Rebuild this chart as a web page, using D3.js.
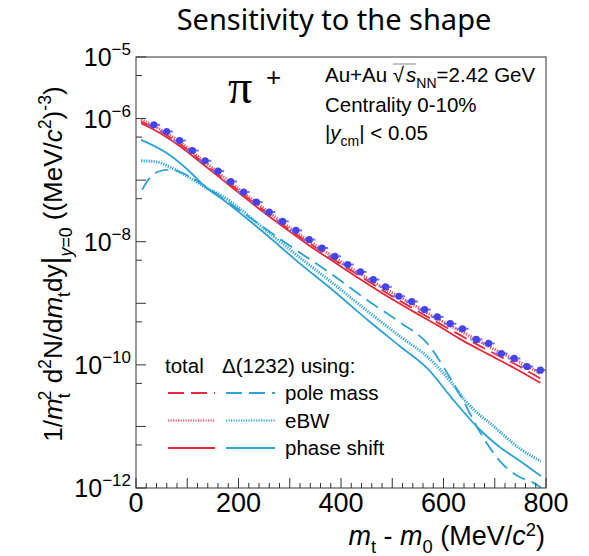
<!DOCTYPE html>
<html>
<head>
<meta charset="utf-8">
<script src="https://cdn.jsdelivr.net/npm/d3@7"></script>
<style>
	body { margin: 0; background: #fff; }
	svg { display: block; font-family: "Liberation Sans", Arial, sans-serif; }
</style>
</head>
<body>
<svg id="chart" width="589" height="556"></svg>
<script>
	// measured pi+ spectrum (points)
	var dataX = [35, 60, 85, 110, 135, 160, 185, 210, 235, 260, 286, 312, 338, 363, 388, 413,
		438, 463, 487, 513, 538, 563, 588, 613, 637, 664, 688, 713, 738, 763, 789];
	var dataY = [7.9e-7, 6.15e-7, 4.4e-7, 3.03e-7, 2.06e-7, 1.40e-7, 9.5e-8, 6.4e-8, 4.4e-8, 3.04e-8,
		2.14e-8, 1.53e-8, 1.08e-8, 7.9e-9, 5.8e-9, 4.26e-9, 3.24e-9, 2.43e-9, 1.85e-9, 1.30e-9,
		1.07e-9, 7.9e-10, 6.0e-10, 4.66e-10, 3.86e-10, 2.59e-10, 2.23e-10, 1.53e-10, 1.27e-10,
		9.4e-11, 8.2e-11];

	// total spectra (red)
	var totalX = [10, 35, 85, 135, 185, 235, 286, 338, 388, 438, 487, 538, 588, 637, 688, 738, 789];
	var totalPole = [8.9e-7, 7.1e-7, 3.9e-7, 1.82e-7, 8.5e-8, 4.0e-8, 1.91e-8, 9.5e-9, 5.0e-9,
		2.75e-9, 1.51e-9, 8.5e-10, 4.9e-10, 2.9e-10, 1.70e-10, 1.05e-10, 6.0e-11];
	var totalEbw = [9.5e-7, 7.6e-7, 4.2e-7, 1.95e-7, 9.1e-8, 4.3e-8, 2.04e-8, 1.02e-8, 5.5e-9,
		3.0e-9, 1.70e-9, 9.8e-10, 5.6e-10, 3.4e-10, 2.0e-10, 1.23e-10, 7.2e-11];
	var totalPhase = [8.3e-7, 6.6e-7, 3.6e-7, 1.70e-7, 7.9e-8, 3.7e-8, 1.78e-8, 8.7e-9, 4.6e-9,
		2.45e-9, 1.35e-9, 7.6e-10, 4.4e-10, 2.5e-10, 1.48e-10, 8.9e-11, 5.1e-11];

	// Delta(1232) contribution (cyan)
	var deltaPoleX = [12, 27, 43, 66, 98, 131, 203, 300, 380, 455, 515, 570, 605, 635, 670, 710, 745, 780, 805];
	var deltaPole = [7.0e-8, 1.09e-7, 1.37e-7, 1.48e-7, 1.22e-7, 8.4e-8, 3.19e-8, 8.6e-9, 3.04e-9,
		1.07e-9, 4.9e-10, 2.15e-10, 7.9e-11, 2.97e-11, 8.4e-12, 2.73e-12, 1.56e-12, 1.16e-12, 8.0e-13];
	var deltaEbwX = [10, 40, 65, 105, 130, 170, 250, 320, 380, 455, 515, 570, 615, 645, 700, 750, 790];
	var deltaEbw = [2.06e-7, 1.99e-7, 1.65e-7, 1.09e-7, 8.1e-8, 5.4e-8, 1.63e-8, 5.5e-9, 2.25e-9,
		7.1e-10, 2.9e-10, 1.32e-10, 5.2e-11, 2.47e-11, 9.7e-12, 4.3e-12, 2.73e-12];
	var deltaPhaseX = [10, 65, 105, 135, 170, 250, 320, 380, 455, 515, 570, 615, 670, 710, 750, 790];
	var deltaPhase = [4.5e-7, 2.58e-7, 1.37e-7, 7.8e-8, 4.8e-8, 1.40e-8, 4.4e-9, 1.74e-9, 5.1e-10,
		2.0e-10, 8.5e-11, 2.97e-11, 9.0e-12, 4.6e-12, 2.73e-12, 1.56e-12];

	var xTickLabels = [0, 200, 400, 600, 800];
	var yTickLabels = [1e-5, 1e-6, 1e-8, 1e-10, 1e-12];
	var legendRows = ['pole mass', 'eBW', 'phase shift'];

	(function () {
		var red = '#e6283a', cyan = '#2ba3d3', blue = '#4444ea';
		var styles = {
			'pole mass': { dash: '14,7', width: 1.8 },
			'eBW': { dash: '1.2,1.3', width: 3 },
			'phase shift': { dash: null, width: 1.8 }
		};

		var svg = d3.select('#chart'),
			x0 = 136, x1 = 546, y0 = 57, y1 = 488;

		var x = d3.scaleLinear().domain([0, 800]).range([x0, x1]);
		var y = d3.scaleLog().domain([1e-12, 1e-5]).range([y1, y0]);

		svg.append('defs').append('clipPath').attr('id', 'frame')
			.append('rect').attr('x', x0).attr('y', y0)
			.attr('width', x1 - x0).attr('height', y1 - y0);

		// title
		svg.append('text')
			.attr('x', 334).attr('y', 30)
			.attr('text-anchor', 'middle')
			.style('font-family', '"Noto Sans", sans-serif')
			.style('font-size', '29px')
			.text('Sensitivity to the shape');

		// rich text helper: parts are [text, {sub|sup|it|size|dx|base}]
		function rich(sel, parts, size) {
			var shift = 0;
			parts.forEach(function (p) {
				var o = p[1] || {},
					t = sel.append('tspan').text(p[0]),
					want = o.sub ? size * 0.3 : (o.sup ? -size * 0.42 : 0);
				if (o.base !== undefined) want = o.base;
				t.attr('dy', want - shift);
				shift = want;
				if (o.dx) t.attr('dx', o.dx);
				if (o.sub || o.sup) t.style('font-size', (o.size || size * 0.68) + 'px');
				else if (o.size) t.style('font-size', o.size + 'px');
				if (o.it) t.style('font-style', 'italic');
			});
		}

		var line = d3.line()
			.x(function (d) { return x(d[0]); })
			.y(function (d) { return y(d[1]); })
			.curve(d3.curveMonotoneX);

		var plotArea = svg.append('g').attr('clip-path', 'url(#frame)');

		function drawCurve(xs, ys, color, style) {
			plotArea.append('path')
				.datum(d3.zip(xs, ys))
				.attr('d', line)
				.attr('fill', 'none')
				.attr('stroke', color)
				.attr('stroke-width', styles[style].width)
				.attr('stroke-dasharray', styles[style].dash);
		}

		drawCurve(deltaPoleX, deltaPole, cyan, 'pole mass');
		drawCurve(deltaEbwX, deltaEbw, cyan, 'eBW');
		drawCurve(deltaPhaseX, deltaPhase, cyan, 'phase shift');
		drawCurve(totalX, totalPhase, red, 'phase shift');
		drawCurve(totalX, totalPole, red, 'pole mass');
		drawCurve(totalX, totalEbw, '#ea4a5a', 'eBW');

		// data points with horizontal bin bars
		var pts = plotArea.append('g').selectAll('g')
			.data(d3.zip(dataX, dataY))
			.enter().append('g');
		pts.append('line')
			.attr('x1', function (d) { return x(d[0] - 12); })
			.attr('x2', function (d) { return x(d[0] + 12); })
			.attr('y1', function (d) { return y(d[1]); })
			.attr('y2', function (d) { return y(d[1]); })
			.attr('stroke', '#7070f0').attr('stroke-width', 2);
		pts.append('circle')
			.attr('cx', function (d) { return x(d[0]); })
			.attr('cy', function (d) { return y(d[1]); })
			.attr('r', 3.6)
			.attr('fill', blue);

		// frame
		svg.append('rect')
			.attr('x', x0).attr('y', y0)
			.attr('width', x1 - x0).attr('height', y1 - y0)
			.attr('fill', 'none').attr('stroke', '#555').attr('stroke-width', 1.2);

		// x ticks (inside)
		var xt = svg.append('g').attr('stroke', '#333').attr('stroke-width', 1);
		d3.range(0, 801, 20).forEach(function (v) {
			var len = v % 100 === 0 ? 10 : 5;
			xt.append('line').attr('x1', x(v)).attr('x2', x(v))
				.attr('y1', y1).attr('y2', y1 - len);
		});
		svg.append('g').selectAll('text')
			.data(xTickLabels)
			.enter().append('text')
			.attr('x', function (d) { return x(d); })
			.attr('y', 512)
			.attr('text-anchor', 'middle')
			.style('font-size', '27px')
			.text(function (d) { return d; });

		// y ticks: decades and 5x
		var yt = svg.append('g').attr('stroke', '#333').attr('stroke-width', 1);
		d3.range(-12, -4).forEach(function (n) {
			[1, 5].forEach(function (m) {
				var v = m * Math.pow(10, n);
				if (v > 1e-5 * 1.0001) return;
				var len = m === 1 ? 10 : 6;
				yt.append('line').attr('x1', x0).attr('x2', x0 + len)
					.attr('y1', y(v)).attr('y2', y(v));
			});
		});
		yTickLabels.forEach(function (v) {
			var t = svg.append('text')
				.attr('x', 131).attr('y', y(v) + 9)
				.attr('text-anchor', 'end')
				.style('font-size', '25px');
			rich(t, [['10'], ['\u2212' + (-Math.round(Math.log10(v))), { base: -11, size: 17 }]], 25);
		});

		// axis titles
		var xl = svg.append('text')
			.attr('x', 545).attr('y', 545)
			.attr('text-anchor', 'end')
			.style('font-size', '27px');
		rich(xl, [['m', { it: 1 }], ['t', { sub: 1 }], [' - '], ['m', { it: 1 }], ['0', { sub: 1 }],
			[' (MeV/'], ['c', { it: 1 }], ['2', { sup: 1, base: -9 }], [')']], 27);

		var yl = svg.append('text')
			.attr('transform', 'translate(62,264) rotate(-90)')
			.attr('text-anchor', 'middle')
			.style('font-size', '26px');
		rich(yl, [['1/'], ['m', { it: 1 }], ['t', { sub: 1 }], ['2', { sup: 1, dx: -7 }],
			[' d'], ['2', { sup: 1 }], ['N/d'], ['m', { it: 1 }], ['t', { sub: 1 }], ['dy'],
			['|', { base: 2, size: 31 }], ['y', { sub: 1, it: 1, base: 10 }], ['=0', { sub: 1, base: 10 }],
			[' ((MeV/'], ['c', { it: 1 }], ['2', { sup: 1 }], [')'], ['-3', { sup: 1 }], [')']], 26);

		// pi+ label
		svg.append('text')
			.attr('x', 228).attr('y', 103)
			.style('font-family', '"Liberation Serif", serif')
			.style('font-size', '48px')
			.text('\u03c0');
		svg.append('text')
			.attr('x', 266).attr('y', 86)
			.style('font-size', '26px')
			.text('+');

		// system info
		var info = svg.append('g').style('font-size', '20.5px');
		var t1 = info.append('text').attr('x', 325).attr('y', 82);
		rich(t1, [['Au+Au '], ['\u221a'], ['s', { it: 1, dx: 2 }], ['NN', { sub: 1, size: 14 }],
			['=2.42 GeV', { base: 0 }]], 20.5);
		info.append('line')
			.attr('x1', 393).attr('x2', 416).attr('y1', 64).attr('y2', 64)
			.attr('stroke', '#888').attr('stroke-width', 1);
		info.append('text').attr('x', 325).attr('y', 112).text('Centrality 0-10%');
		var t3 = info.append('text').attr('x', 325).attr('y', 140);
		rich(t3, [['|'], ['y', { it: 1 }], ['cm', { sub: 1, size: 14 }], ['| < 0.05', { base: 0 }]], 20.5);

		// legend
		var lg = svg.append('g').style('font-size', '20.5px');
		lg.append('text').attr('x', 165).attr('y', 373).text('total');
		lg.append('text').attr('x', 222).attr('y', 373).text('\u0394(1232) using:');
		legendRows.forEach(function (name, i) {
			var ly = 393 + i * 27.5;
			lg.append('line').attr('x1', 168).attr('x2', 215).attr('y1', ly).attr('y2', ly)
				.attr('stroke', i === 1 ? '#ea4a5a' : red)
				.attr('stroke-width', i === 1 ? 2 : 1.8)
				.attr('stroke-dasharray', i === 0 ? '16,7' : (i === 1 ? '1.2,1.3' : null));
			lg.append('line').attr('x1', 226).attr('x2', 275).attr('y1', ly).attr('y2', ly)
				.attr('stroke', cyan)
				.attr('stroke-width', i === 1 ? 2 : 1.8)
				.attr('stroke-dasharray', i === 0 ? '16,7' : (i === 1 ? '1.2,1.3' : null));
			lg.append('text').attr('x', 285).attr('y', ly + 7).text(name);
		});
	})();
</script>
</body>
</html>
